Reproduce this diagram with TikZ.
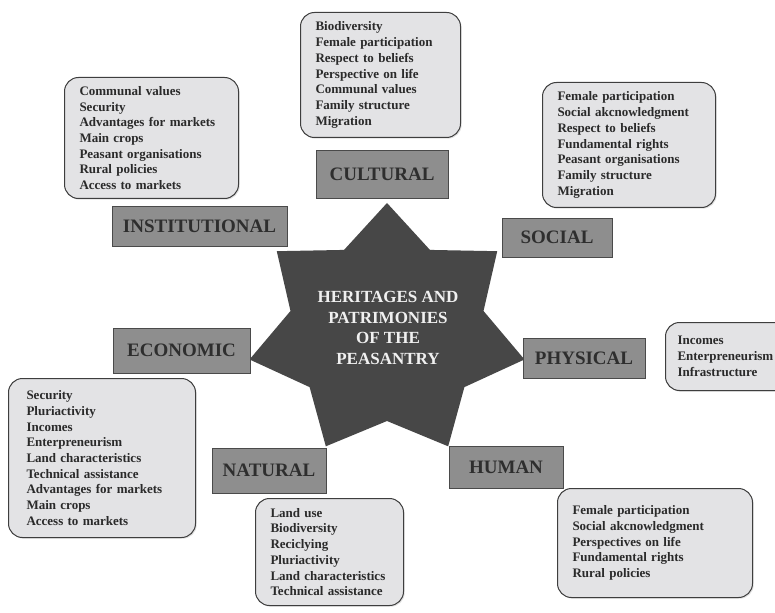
\documentclass[tikz,border=0pt]{standalone}
\usepackage{fontspec}
\setmainfont{Liberation Serif}
\usetikzlibrary{shadows}
\definecolor{stargray}{HTML}{474747}
\definecolor{capfill}{HTML}{8E8E8E}
\definecolor{capedge}{HTML}{4A4A4A}
\definecolor{captext}{HTML}{2E2E2E}
\definecolor{listfill}{HTML}{E3E3E5}
\definecolor{listedge}{HTML}{3E3E3E}
\definecolor{listtext}{HTML}{2A2A2A}

\begin{document}
\begin{tikzpicture}[x=1pt,y=-1pt,
    capital/.style={draw=capedge, fill=capfill, line width=0.8pt, text=captext,
      font=\fontsize{19}{21}\selectfont\bfseries, inner sep=0pt,
      drop shadow={opacity=0.25, shadow xshift=1.2pt, shadow yshift=-1.2pt}},
    assets/.style={draw=listedge, fill=listfill, line width=1pt, rounded corners=14pt,
      text=listtext, font=\fontsize{13}{15.7}\selectfont\bfseries, align=left,
      anchor=north west, inner xsep=15pt, inner ysep=0pt,
      drop shadow={opacity=0.25, shadow xshift=1.2pt, shadow yshift=-1.2pt}}]
        \fill[white] (0,0) rectangle (775,612);
        \useasboundingbox (0,0) rectangle (775,612);
        \fill[stargray, shift={(387,331)}] (-90:141 and 128)
            \foreach \k in {1,...,7} { -- ({-90+\k*360/7-180/7}:99 and 90) -- ({-90+\k*360/7}:141 and 128) } -- cycle;
        \node[text=white!94!black, align=center, font=\fontsize{17}{20.5}\selectfont\bfseries] (hub) at (388,328)
            {HERITAGES AND\\PATRIMONIES\\OF THE\\PEASANTRY};
        \node[capital, minimum width=132pt, minimum height=48pt] (cultural) at (382,174) {CULTURAL};
        \node[capital, minimum width=175pt, minimum height=40pt] (institutional) at (199.5,226) {INSTITUTIONAL};
        \node[capital, minimum width=110pt, minimum height=39pt] (social) at (557,237.5) {SOCIAL};
        \node[capital, minimum width=122pt, minimum height=40pt] (physical) at (584,358) {PHYSICAL};
        \node[capital, minimum width=137pt, minimum height=45pt] (economic) at (181.5,350.5) {ECONOMIC};
        \node[capital, minimum width=114pt, minimum height=45pt] (natural) at (269,470.5) {NATURAL};
        \node[capital, minimum width=114pt, minimum height=42pt] (human) at (506,467) {HUMAN};
        \node[assets, text width=130pt, minimum height=125pt] (culturalList) at (300,12)
            {Biodiversity\\Female participation\\Respect to beliefs\\Perspective on life\\Communal values\\Family structure\\Migration};
        \node[assets, text width=144pt, minimum height=121pt] (institutionalList) at (64,77)
            {Communal values\\Security\\Advantages for markets\\Main crops\\Peasant organisations\\Rural policies\\Access to markets};
        \node[assets, text width=143pt, minimum height=125pt] (socialList) at (542,82)
            {Female participation\\Social akcnowledgment\\Respect to beliefs\\Fundamental rights\\Peasant organisations\\Family structure\\Migration};
        \node[assets, inner xsep=12pt, text width=100pt, minimum height=68pt] (physicalList) at (665,322)
            {Incomes\\Enterpreneurism\\Infrastructure};
        \node[assets, inner xsep=18pt, text width=151pt, minimum height=159pt] (economicList) at (8,378)
            {Security\\Pluriactivity\\Incomes\\Enterpreneurism\\Land characteristics\\Technical assistance\\Advantages for markets\\Main crops\\Access to markets};
        \node[assets, text width=118pt, minimum height=107pt] (naturalList) at (255,498)
            {Land use\\Biodiversity\\Reciclying\\Pluriactivity\\Land characteristics\\Technical assistance};
        \node[assets, text width=165pt, minimum height=109pt] (humanList) at (557,488)
            {Female participation\\Social akcnowledgment\\Perspectives on life\\Fundamental rights\\Rural policies};
\end{tikzpicture}
\end{document}
